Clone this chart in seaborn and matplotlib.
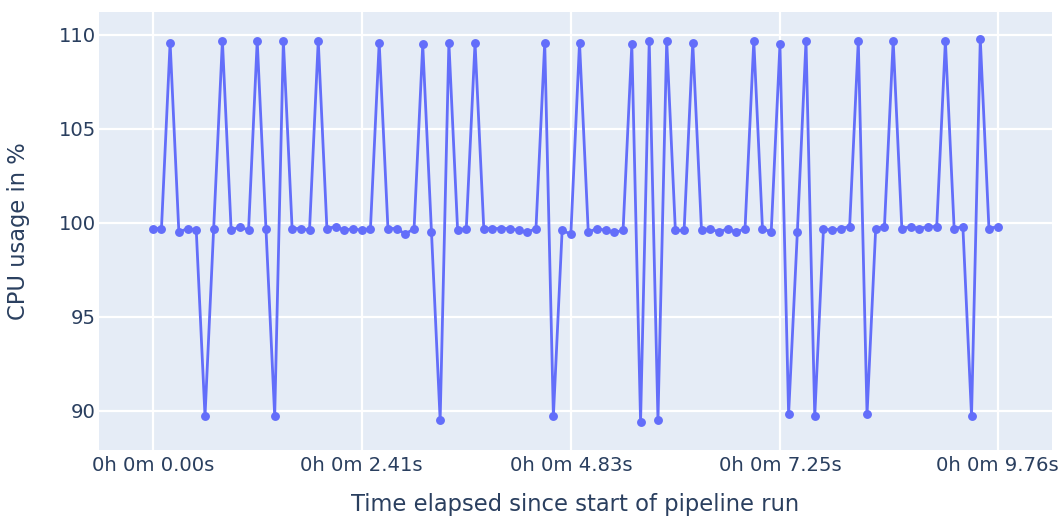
import matplotlib
matplotlib.use("Agg")
import matplotlib.pyplot as plt
import seaborn as sns
import pandas as pd

# ---- data ----
elapsed_s = [
    0.000, 0.101, 0.201, 0.302, 0.402, 0.503, 0.604, 0.704, 0.805, 0.906,
    1.006, 1.107, 1.207, 1.308, 1.409, 1.509, 1.610, 1.711, 1.811, 1.912,
    2.012, 2.113, 2.214, 2.314, 2.415, 2.515, 2.616, 2.717, 2.817, 2.918,
    3.019, 3.119, 3.220, 3.320, 3.421, 3.522, 3.622, 3.723, 3.824, 3.924,
    4.025, 4.125, 4.226, 4.327, 4.427, 4.528, 4.628, 4.729, 4.830, 4.930,
    5.031, 5.132, 5.232, 5.333, 5.433, 5.534, 5.635, 5.735, 5.836, 5.937,
    6.037, 6.138, 6.238, 6.339, 6.440, 6.540, 6.641, 6.741, 6.842, 6.943,
    7.043, 7.144, 7.245, 7.345, 7.446, 7.546, 7.647, 7.748, 7.848, 7.949,
    8.050, 8.150, 8.251, 8.351, 8.452, 8.553, 8.653, 8.754, 8.854, 8.955,
    9.056, 9.156, 9.257, 9.358, 9.458, 9.559, 9.659, 9.760,
]
cpu_usage = [
    99.7, 99.7, 109.6, 99.5, 99.7, 99.6, 89.7, 99.7, 109.7, 99.6,
    99.8, 99.6, 109.7, 99.7, 89.7, 109.7, 99.7, 99.7, 99.6, 109.7,
    99.7, 99.8, 99.6, 99.7, 99.6, 99.7, 109.6, 99.7, 99.7, 99.4,
    99.7, 109.5, 99.5, 89.5, 109.6, 99.6, 99.7, 109.6, 99.7, 99.7,
    99.7, 99.7, 99.6, 99.5, 99.7, 109.6, 89.7, 99.6, 99.4, 109.6,
    99.5, 99.7, 99.6, 99.5, 99.6, 109.5, 89.4, 109.7, 89.5, 109.7,
    99.6, 99.6, 109.6, 99.6, 99.7, 99.5, 99.7, 99.5, 99.7, 109.7,
    99.7, 99.5, 109.5, 89.8, 99.5, 109.7, 89.7, 99.7, 99.6, 99.7,
    99.8, 109.7, 89.8, 99.7, 99.8, 109.7, 99.7, 99.8, 99.7, 99.8,
    99.8, 109.7, 99.7, 99.8, 89.7, 109.8, 99.7, 99.8,
]
x_tick_values = [0.000, 2.415, 4.830, 7.245, 9.760]
x_tick_labels = ["0h 0m 0.00s", "0h 0m 2.41s", "0h 0m 4.83s", "0h 0m 7.25s", "0h 0m 9.76s"]
y_tick_values = [90, 95, 100, 105, 110]
x_title = "Time elapsed since start of pipeline run"
y_title = "CPU usage in %"

df = pd.DataFrame({"elapsed_s": elapsed_s, "cpu": cpu_usage})

# ---- style ----
TEXT = "#2a3f5f"
sns.set_theme(style="darkgrid", rc={
    "axes.facecolor": "#E5ECF6",
    "figure.facecolor": "white",
    "grid.color": "white",
    "grid.linewidth": 1.6,
    "axes.edgecolor": "white",
})
plt.rcParams["font.family"] = ["DejaVu Sans"]

W, H = 1063, 521
fig = plt.figure(figsize=(W / 100, H / 100), dpi=100)
left, right, top, bottom = 99.3, 1051.7, 11.7, 450.0
ax = fig.add_axes([left / W, (H - bottom) / H, (right - left) / W, (bottom - top) / H])

sns.lineplot(data=df, x="elapsed_s", y="cpu", ax=ax, color="#636efa",
             linewidth=2.0, marker="o", markersize=6.4, markeredgewidth=0,
             zorder=3)

ax.set_xlim(-0.617, 10.384)
ax.set_ylim(87.91, 111.24)
ax.set_xticks(x_tick_values)
ax.set_xticklabels(x_tick_labels)
ax.set_yticks(y_tick_values)
ax.tick_params(axis="both", length=0, labelsize=14.1, labelcolor=TEXT)
ax.tick_params(axis="x", pad=4.5)
ax.tick_params(axis="y", pad=2.5)
for s in ax.spines.values():
    s.set_visible(False)

ax.set_xlabel(x_title, fontsize=16.3, color=TEXT)
ax.set_ylabel(y_title, fontsize=16.3, color=TEXT)
ax.xaxis.set_label_coords(0.5, (bottom - 505) / (bottom - top))
ax.xaxis.label.set_va("center")
ax.yaxis.set_label_coords((19 - left) / (right - left), 0.5)
ax.yaxis.label.set_va("center")
ax.yaxis.label.set_ha("center")

fig.savefig("out.png", dpi=100)
